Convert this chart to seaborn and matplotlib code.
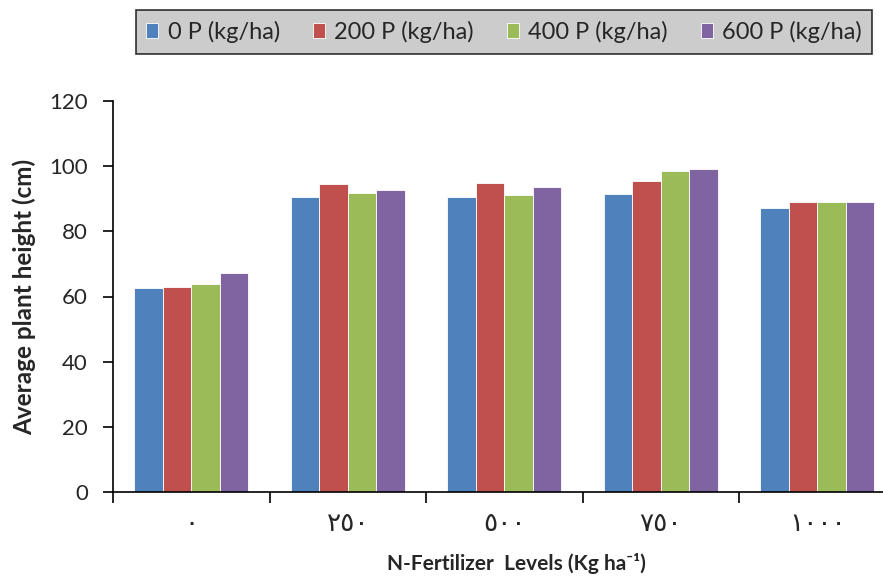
import matplotlib
matplotlib.use("Agg")
import matplotlib.pyplot as plt
import seaborn as sns
import pandas as pd
import numpy as np
from matplotlib.ticker import FixedLocator

sns.set_theme(style="white")
plt.rcParams['font.family'] = ['Lato', 'DejaVu Sans']

categories = ["٠", "٢٥٠", "٥٠٠", "٧٥٠", "١٠٠٠"]
series = ["0 P (kg/ha)", "200 P (kg/ha)", "400 P (kg/ha)", "600 P (kg/ha)"]
p0 = [62.5, 90.5, 90.5, 91.5, 87.2]
p200 = [62.9, 94.5, 94.7, 95.4, 89.0]
p400 = [63.8, 91.8, 91.2, 98.4, 89.1]
p600 = [67.3, 92.8, 93.5, 99.2, 89.1]
colors = ["#4F81BD", "#C0504D", "#9BBB59", "#8064A2"]
yticks = [0, 20, 40, 60, 80, 100, 120]

rows = []
for s, vals in zip(series, [p0, p200, p400, p600]):
    for c, v in zip(categories, vals):
        rows.append({"level": c, "series": s, "value": v})
df = pd.DataFrame(rows)

fig = plt.figure(figsize=(8.83, 5.80), dpi=100)
ax = fig.add_axes([113/883, 88/580, 770/883, 391/580])

sns.barplot(data=df, x="level", y="value", hue="series", order=categories,
            hue_order=series, palette=colors, width=0.73, ax=ax,
            edgecolor="white", linewidth=0.6, saturation=1, legend=True)

ax.set_ylim(0, 120)
ax.set_xlim(-0.5, 4.42)
ax.set_yticks(yticks)
ax.set_yticklabels([str(t) for t in yticks], fontsize=16)
ax.set_xticks(range(len(categories)))
ax.set_xticklabels(categories, fontsize=19, family=['DejaVu Sans'])
ax.xaxis.set_minor_locator(FixedLocator(np.arange(-0.5, 5, 1.0)))
ax.tick_params(axis='x', which='major', length=0, pad=14)
ax.tick_params(axis='x', which='minor', length=8, width=1.2, color='black', direction='out', bottom=True)
ax.tick_params(axis='y', length=7, width=1.2, color='black', direction='out', left=True, pad=11)

for sp in ['top', 'right']:
    ax.spines[sp].set_visible(False)
for sp in ['left', 'bottom']:
    ax.spines[sp].set_color('black')
    ax.spines[sp].set_linewidth(1.2)

ax.set_ylabel("Average plant height (cm)", fontsize=17.5, fontweight='bold')
ax.yaxis.set_label_coords(-(113 - 24) / 770, 0.5)
ax.yaxis.label.set_verticalalignment('center')
ax.set_xlabel("N-Fertilizer  Levels (Kg ha⁻¹)", fontsize=15, fontweight='bold')
ax.xaxis.label.set_verticalalignment('center')
ax.xaxis.set_label_coords((516 - 113) / 770, -(563 - 492) / 391)

handles, labels = ax.get_legend_handles_labels()
ax.get_legend().remove()
leg = fig.legend(handles, labels, loc='center', bbox_to_anchor=(504/883, 1 - 32/580), ncol=4,
                 fontsize=17, frameon=True, fancybox=False, handlelength=0.5, handleheight=0.6,
                 handletextpad=0.4, columnspacing=1.4, borderpad=0.45)
leg.get_frame().set_facecolor('#C0C0C0')
leg.get_frame().set_edgecolor('black')
leg.get_frame().set_linewidth(1.2)

fig.savefig("out.png", dpi=100)
